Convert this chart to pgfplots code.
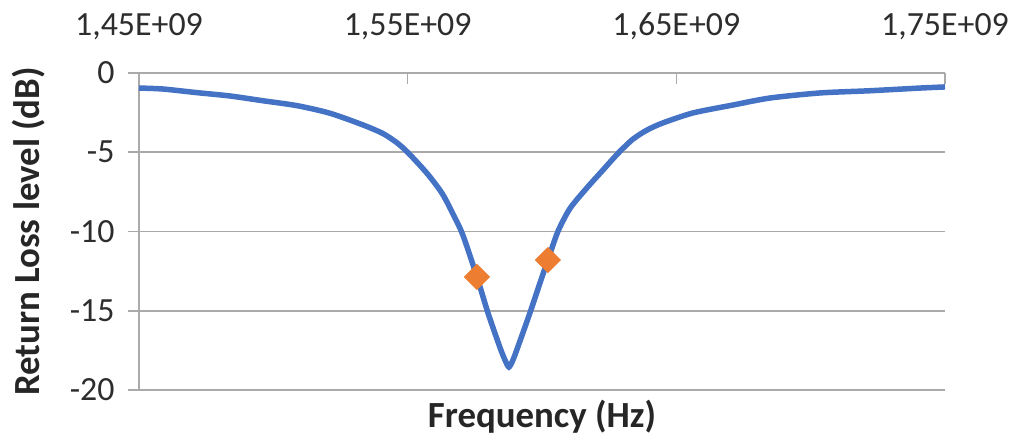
\documentclass[border=0pt]{standalone}
\usepackage{fontspec}
\setmainfont{Carlito}
\usepackage{pgfplots}
\pgfplotsset{compat=1.18}

\definecolor{curveblue}{RGB}{68,114,196}
\definecolor{markorange}{RGB}{237,125,49}
\definecolor{gridgray}{RGB}{170,170,170}
\definecolor{ticktext}{RGB}{45,45,45}

% return loss, frequency in GHz (ticks labelled in Hz as in the source)
\pgfplotstableread{
f rl
1.4500 -0.95
1.4589 -1.01
1.4716 -1.24
1.4839 -1.45
1.4961 -1.75
1.5088 -2.06
1.5211 -2.54
1.5334 -3.28
1.5408 -3.82
1.5460 -4.40
1.5501 -5.02
1.5572 -6.33
1.5628 -7.59
1.5669 -8.90
1.5706 -10.25
1.5758 -12.87
1.5799 -15.14
1.5843 -17.29
1.5862 -18.10
1.5877 -18.55
1.5892 -18.10
1.5910 -17.29
1.5955 -15.14
1.6000 -12.87
1.6022 -11.80
1.6059 -10.01
1.6104 -8.55
1.6167 -7.25
1.6227 -6.12
1.6283 -5.07
1.6338 -4.18
1.6391 -3.60
1.6450 -3.15
1.6562 -2.52
1.6711 -2.02
1.6848 -1.58
1.7034 -1.26
1.7220 -1.12
1.7407 -0.95
1.7500 -0.88
}\rlcurve

\pgfplotstableread{
f rl
1.5758 -12.87
1.6022 -11.80
}\rlmarks

\begin{document}
\begin{tikzpicture}
\begin{axis}[
    scale only axis,
    width=806bp, height=317bp,
    xmin=1.45, xmax=1.75,
    ymin=-20, ymax=0,
    axis x line=top,
    axis y line=left,
    axis line style={-, draw=gridgray, line width=1.6bp},
    xtick={1.45,1.55,1.65,1.75},
    xticklabels={{1,45E+09},{1,55E+09},{1,65E+09},{1,75E+09}},
    ytick={-20,-15,-10,-5,0},
    yticklabels={-20,-15,-10,-5,0},
    xtick align=inside,
    ytick align=outside,
    major tick length=11bp,
    tick style={draw=gridgray, line width=1.6bp},
    ymajorgrids=true,
    grid style={draw=gridgray, line width=1.6bp},
    xticklabel style={font=\fontsize{34}{40}\selectfont, text=ticktext, anchor=base, yshift=37bp},
    yticklabel style={font=\fontsize{34}{40}\selectfont, text=ticktext, anchor=east, xshift=-10bp},
    xlabel={Frequency (Hz)},
    ylabel={Return Loss level (dB)},
    xlabel style={font=\bfseries\fontsize{37}{44}\selectfont, text=black!85,
        at={(axis description cs:0.5,0)}, anchor=north, yshift=-7bp},
    ylabel style={font=\bfseries\fontsize{37}{44}\selectfont, text=black!85,
        at={(axis description cs:0,0.5)}, anchor=center, yshift=110bp},
    clip=false,
]
\addplot[curveblue, line width=5.5bp, smooth, tension=0.45] table[x=f, y=rl] {\rlcurve};
\addplot[only marks, mark=square*, mark size=9bp,
    mark options={rotate=45, fill=markorange, draw=markorange}] table[x=f, y=rl] {\rlmarks};
\end{axis}
\pgfresetboundingbox
\path[use as bounding box] (-139bp,-51bp) rectangle (881bp,390bp);
\end{tikzpicture}
\end{document}
